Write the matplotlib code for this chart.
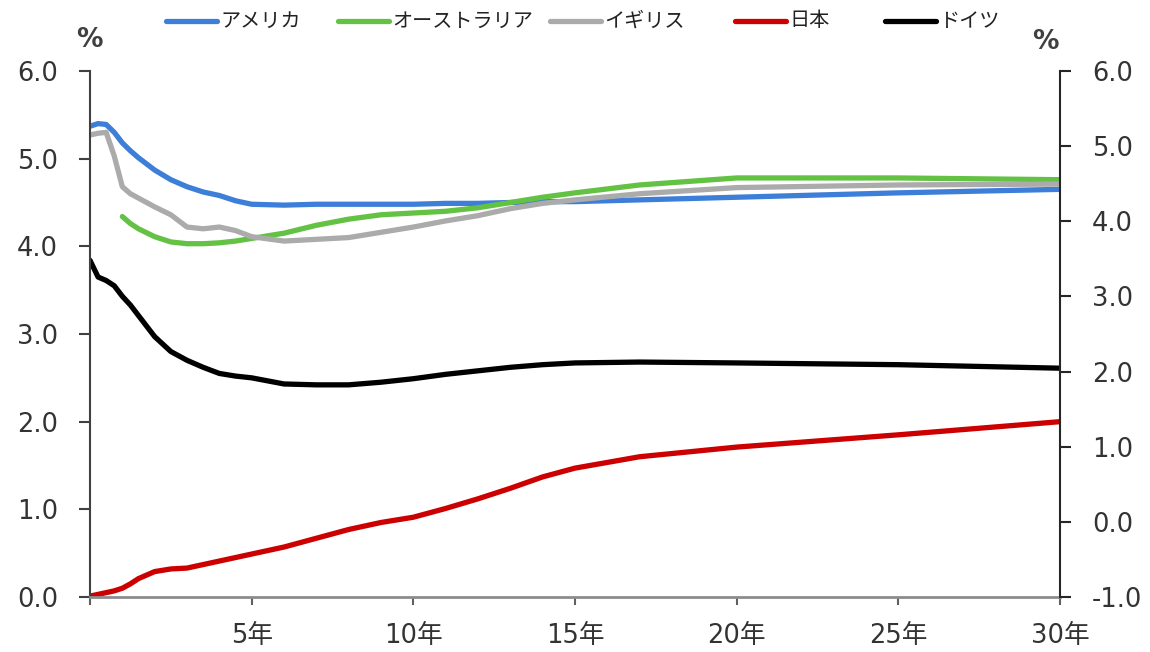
import matplotlib
matplotlib.use("Agg")
import matplotlib.pyplot as plt
from matplotlib.lines import Line2D
import numpy as np

# Maturity (years)
maturity = [0, 0.25, 0.5, 0.75, 1, 1.25, 1.5, 2, 2.5, 3, 3.5, 4, 4.5, 5,
            6, 7, 8, 9, 10, 11, 12, 13, 14, 15, 17, 20, 25, 30]

# Government bond yields (%)
usa = [5.37, 5.40, 5.39, 5.30, 5.18, 5.09, 5.01, 4.87, 4.76, 4.68, 4.62, 4.58, 4.52, 4.48,
       4.47, 4.48, 4.48, 4.48, 4.48, 4.49, 4.49, 4.50, 4.51, 4.51, 4.53, 4.56, 4.61, 4.65]
australia = [np.nan, np.nan, np.nan, np.nan, 4.34, 4.26, 4.20, 4.11, 4.05, 4.03, 4.03, 4.04, 4.06, 4.09,
             4.15, 4.24, 4.31, 4.36, 4.38, 4.40, 4.44, 4.50, 4.56, 4.61, 4.70, 4.78, 4.78, 4.76]
uk = [5.27, 5.29, 5.30, 5.03, 4.68, 4.60, 4.55, 4.45, 4.36, 4.22, 4.20, 4.22, 4.18, 4.11,
      4.06, 4.08, 4.10, 4.16, 4.22, 4.29, 4.35, 4.43, 4.49, 4.53, 4.60, 4.67, 4.70, 4.71]
japan = [0.01, 0.03, 0.05, 0.07, 0.10, 0.15, 0.21, 0.29, 0.32, 0.33, 0.37, 0.41, 0.45, 0.49,
         0.57, 0.67, 0.77, 0.85, 0.91, 1.01, 1.12, 1.24, 1.37, 1.47, 1.60, 1.71, 1.85, 2.00]
germany = [3.84, 3.65, 3.61, 3.55, 3.43, 3.33, 3.21, 2.97, 2.80, 2.70, 2.62, 2.55, 2.52, 2.50,
           2.43, 2.42, 2.42, 2.45, 2.49, 2.54, 2.58, 2.62, 2.65, 2.67, 2.68, 2.67, 2.65, 2.61]

series_names = ["アメリカ", "オーストラリア", "イギリス", "日本", "ドイツ"]
series_values = [usa, australia, uk, japan, germany]
series_colors = ["#3d7fd8", "#63c244", "#ababab", "#cc0000", "#000000"]

x_ticks = [0, 5, 10, 15, 20, 25, 30]
x_tick_labels = ["", "5年", "10年", "15年", "20年", "25年", "30年"]
left_ticks = [0, 1, 2, 3, 4, 5, 6]
right_ticks = [-1, 0, 1, 2, 3, 4, 5, 6]

W, H = 1150, 652
fig = plt.figure(figsize=(W / 100, H / 100), dpi=100)
ax = fig.add_axes([90 / W, 55 / H, 970 / W, 526 / H])

num_font = ["DejaVu Sans", "Noto Sans CJK JP"]
text_color = "#333333"
label_size = 18.5

for vals, col in zip(series_values, series_colors):
    ax.plot(maturity, vals, color=col, lw=3.8, solid_capstyle="round",
            solid_joinstyle="round")

ax.set_xlim(0, 30)
ax.set_ylim(0, 6)
ax.set_xticks(x_ticks)
ax.set_xticklabels(x_tick_labels)
ax.set_yticks(left_ticks)
ax.set_yticklabels([f"{v:.1f}" for v in left_ticks])

for s in ("top", "right"):
    ax.spines[s].set_visible(False)
ax.spines["left"].set_color("#404040")
ax.spines["left"].set_linewidth(1.5)
ax.spines["bottom"].set_color("#8c8c8c")
ax.spines["bottom"].set_linewidth(2)

ax.tick_params(axis="y", direction="out", length=8, width=1.5, color="#404040",
               pad=15, labelsize=label_size, labelcolor=text_color)
ax.tick_params(axis="x", direction="out", length=6, width=1.5, color="#606060",
               pad=13, labelsize=label_size, labelcolor=text_color)
for lab in ax.get_xticklabels() + ax.get_yticklabels():
    lab.set_family(num_font)

ax2 = ax.twinx()
ax2.set_ylim(-1, 6)
ax2.set_yticks(right_ticks)
ax2.set_yticklabels([f"{v:.1f}" for v in right_ticks])
for s in ("top", "left", "bottom"):
    ax2.spines[s].set_visible(False)
ax2.spines["right"].set_color("#262626")
ax2.spines["right"].set_linewidth(1.5)
ax2.tick_params(axis="y", direction="out", length=8, width=1.5, color="#262626",
                pad=15, labelsize=label_size, labelcolor=text_color)
for lab in ax2.get_yticklabels():
    lab.set_family(num_font)

# Unit labels
fig.text(89 / W, 1 - 40 / H, "%", ha="center", va="center", fontsize=19,
         color="#404040", family="DejaVu Sans", fontweight="bold")
fig.text(1045 / W, 1 - 42 / H, "%", ha="center", va="center", fontsize=19,
         color="#404040", family="DejaVu Sans", fontweight="bold")

# Legend row across the top
legend_left_px = [166, 338, 550, 735, 885]
handle_px = 51
legend_y = 1 - 21 / H
for name, col, x0 in zip(series_names, series_colors, legend_left_px):
    fig.add_artist(Line2D([x0 / W, (x0 + handle_px) / W], [legend_y, legend_y],
                          transform=fig.transFigure, color=col, lw=3.8,
                          solid_capstyle="round"))
    fig.text((x0 + handle_px + 3) / W, legend_y, name, ha="left", va="center",
             fontsize=14.5, color="#222222", family=["Noto Sans CJK JP"])

fig.savefig("out.png", dpi=100, facecolor="white")
